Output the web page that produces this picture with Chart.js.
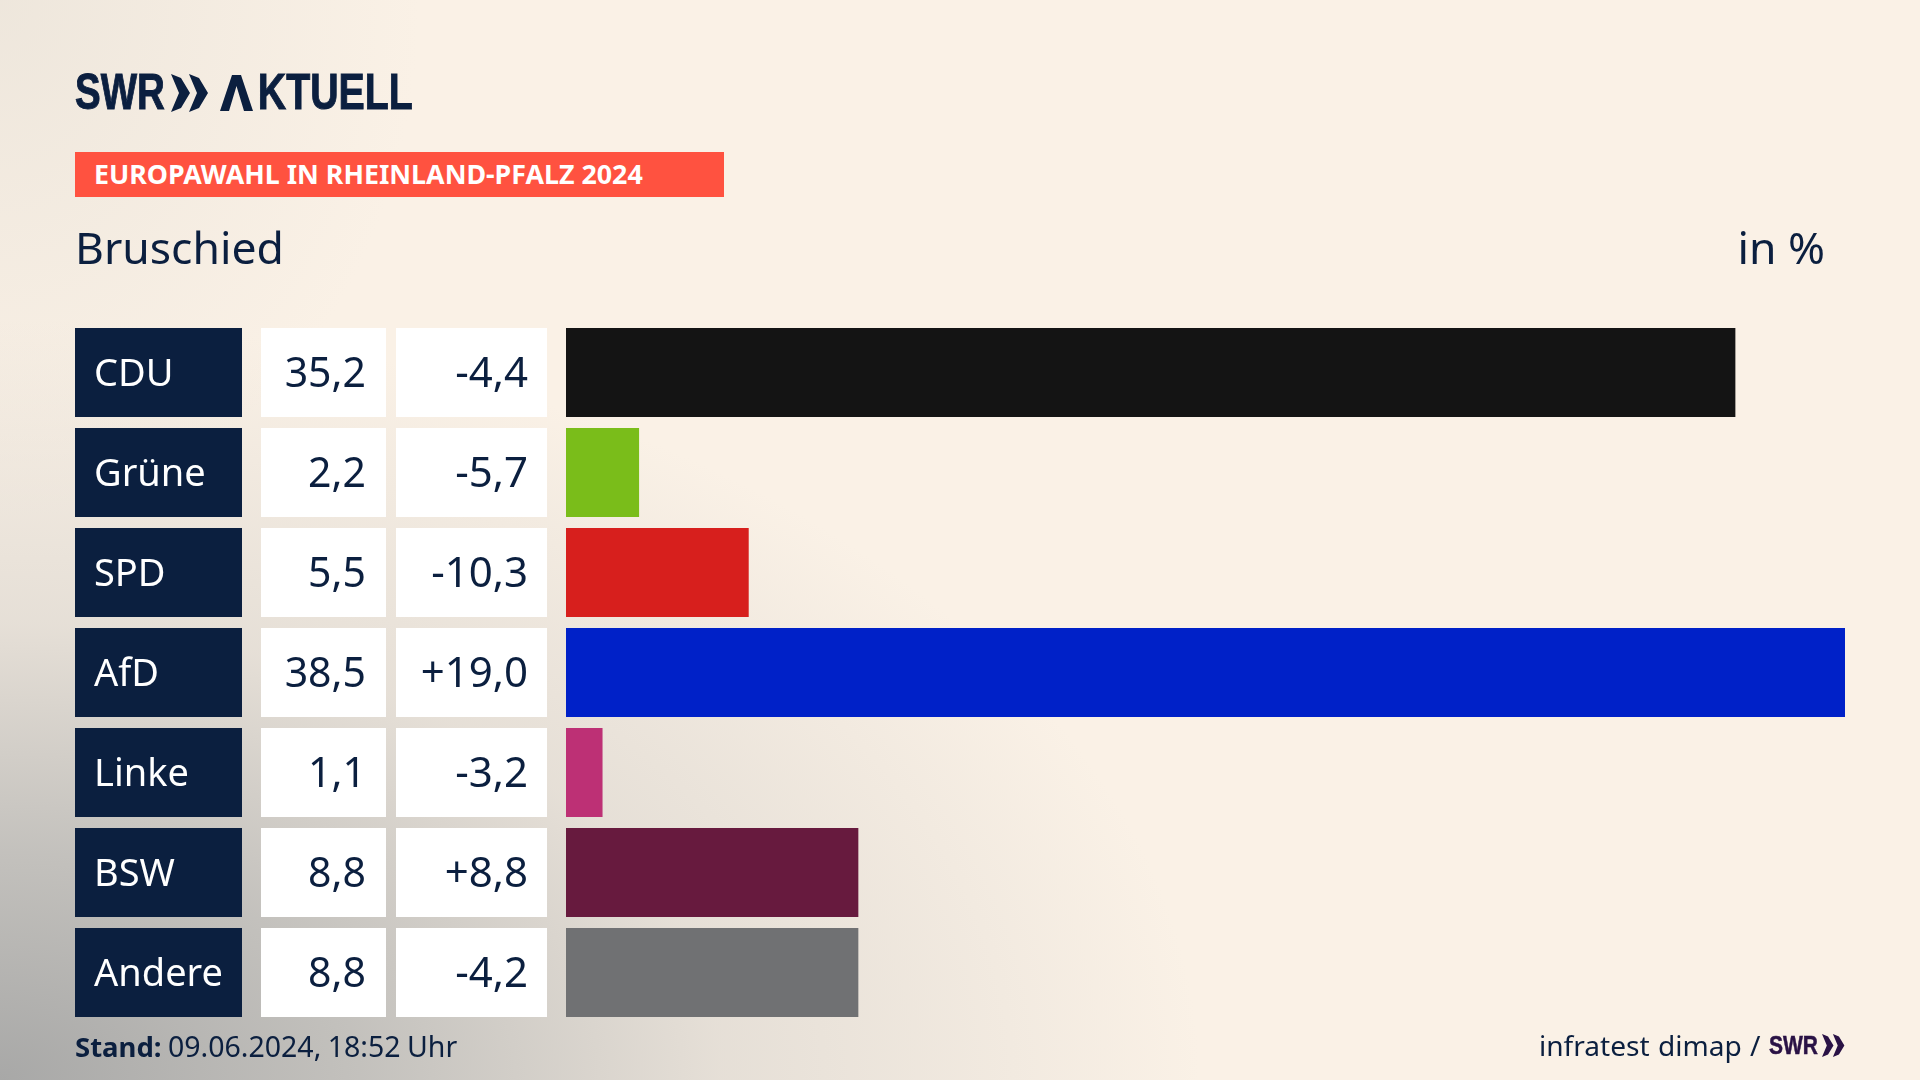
<!DOCTYPE html>
<html lang="de">
<head>
<meta charset="utf-8">
<title>Europawahl Bruschied</title>
<script src="https://cdn.jsdelivr.net/npm/chart.js@4"></script>
<style>
  html, body { margin: 0; padding: 0; }
  body {
    width: 1920px; height: 1080px; position: relative; overflow: hidden;
    font-family: "Noto Sans", sans-serif; color: #0b1f3f;
    background:
      radial-gradient(ellipse 1200px 760px at 0% 100%, rgb(168,168,167) 0%, rgba(194,192,188,.98) 30%, rgba(226,220,212,.85) 60%, rgba(250,241,230,0) 100%),
      radial-gradient(ellipse 420px 520px at 0% 0%, rgba(228,222,212,.55) 0%, rgba(250,241,230,0) 100%),
      #faf1e6;
  }
  canvas { position: absolute; left: 0; top: 0; }
  .txt { position: absolute; white-space: nowrap; line-height: 1; }
  .narrow { font-family: "Liberation Sans", sans-serif; font-weight: 700; transform-origin: 0 0; }
  #logo { left: 75px; top: 67px; font-size: 50px; transform: scaleX(.77); -webkit-text-stroke: 1px #0b1f3f; }
  #aktuell { left: 220px; top: 67px; font-size: 50px; transform: scaleX(.786); -webkit-text-stroke: 1px #0b1f3f; }
  #aktuell span { color: transparent; -webkit-text-stroke: 0; margin-right: 12px; }
  #banner { position: absolute; left: 75px; top: 152px; width: 649px; height: 45px; background: #ff5240; }
  #bannerText { left: 94px; top: 161px; font-size: 26.8px; font-weight: 700; color: #fff; }
  #title { left: 75px; top: 225px; font-size: 44.5px; }
  #unit { right: 95px; top: 225px; font-size: 44.5px; }
  #stand { left: 75px; top: 1032px; font-size: 28.5px; word-spacing: -1px; }
  #stand b { font-size: 27.5px; }
  #source { left: 1539px; top: 1031px; font-size: 28.1px; word-spacing: 1px; }
  #swrSmall { left: 1769px; top: 1033px; font-size: 25px; color: #2a1245; transform: scaleX(.84); -webkit-text-stroke: .5px #2a1245; }
</style>
</head>
<body>
<canvas id="chart" width="1920" height="1080"></canvas>

<div class="txt narrow" id="logo">SWR</div>
<svg style="position:absolute;left:171px;top:74px" width="38" height="38" viewBox="0 0 38 38" fill="#0b1f3f">
  <polygon points="0,0 10,4 19,19 10,34 0,38 8,19"/>
  <polygon points="18,0 28,4 37,19 28,34 18,38 26,19"/>
</svg>
<svg style="position:absolute;left:220px;top:75px" width="33" height="36" viewBox="0 0 33 36" fill="#0b1f3f">
  <polygon points="12,0 21,0 33,36 24,36 16.5,11 9,36 0,36"/>
</svg>
<div class="txt narrow" id="aktuell"><span>A</span>KTUELL</div>
<div id="banner"></div>
<div class="txt" id="bannerText">EUROPAWAHL IN RHEINLAND-PFALZ 2024</div>
<div class="txt" id="title">Bruschied</div>
<div class="txt" id="unit">in %</div>
<div class="txt" id="stand"><b>Stand:</b> 09.06.2024, 18:52 Uhr</div>
<div class="txt" id="source">infratest dimap /</div>
<div class="txt narrow" id="swrSmall">SWR</div>
<svg style="position:absolute;left:1822px;top:1034px" width="23" height="23" viewBox="0 0 38 38" fill="#2a1245">
  <polygon points="0,0 10,4 19,19 10,34 0,38 8,19"/>
  <polygon points="18,0 28,4 37,19 28,34 18,38 26,19"/>
</svg>

<script>
const parties = ["CDU", "Grüne", "SPD", "AfD", "Linke", "BSW", "Andere"];
const shares = [35.2, 2.2, 5.5, 38.5, 1.1, 8.8, 8.8];
const changes = [-4.4, -5.7, -10.3, 19.0, -3.2, 8.8, -4.2];
const barColors = ["#141414", "#7abd1a", "#d71f1d", "#0021c8", "#bd3075", "#671a3e", "#707173"];

function formatNum(v, signed) {
  const s = Math.abs(v).toFixed(1).replace(".", ",");
  if (!signed) return s;
  return (v < 0 ? "-" : "+") + s;
}

// left column cells, lined up with the bars
const tablePlugin = {
  id: "table",
  afterDatasetsDraw(chart) {
    const ctx = chart.ctx;
    const bars = chart.getDatasetMeta(0).data;
    ctx.save();
    ctx.textBaseline = "alphabetic";
    bars.forEach((bar, i) => {
      const top = bar.y - bar.height / 2;
      const base = bar.y + 14;
      ctx.fillStyle = "#0b1f3f";
      ctx.fillRect(75, top, 167, bar.height);
      ctx.fillStyle = "#fff";
      ctx.fillRect(261, top, 125, bar.height);
      ctx.fillRect(396, top, 151, bar.height);
      ctx.textAlign = "left";
      ctx.font = '38px "Noto Sans"';
      ctx.fillText(parties[i], 94, base - 1);
      ctx.fillStyle = "#0b1f3f";
      ctx.textAlign = "right";
      ctx.font = '41px "Noto Sans"';
      ctx.fillText(formatNum(shares[i], false), 366, base);
      ctx.font = '42px "Noto Sans"';
      ctx.fillText(formatNum(changes[i], true), 528, base);
    });
    ctx.restore();
  }
};

new Chart(document.getElementById("chart"), {
  type: "bar",
  data: {
    labels: parties,
    datasets: [{
      data: shares,
      backgroundColor: barColors,
      barPercentage: 0.89,
      categoryPercentage: 1
    }]
  },
  options: {
    indexAxis: "y",
    responsive: false,
    animation: false,
    layout: { padding: { left: 566, right: 75, top: 322.5, bottom: 57.5 } },
    plugins: { legend: { display: false }, tooltip: { enabled: false } },
    scales: {
      x: { display: false, min: 0, max: 38.5 },
      y: { display: false }
    }
  },
  plugins: [tablePlugin]
});
</script>
</body>
</html>
